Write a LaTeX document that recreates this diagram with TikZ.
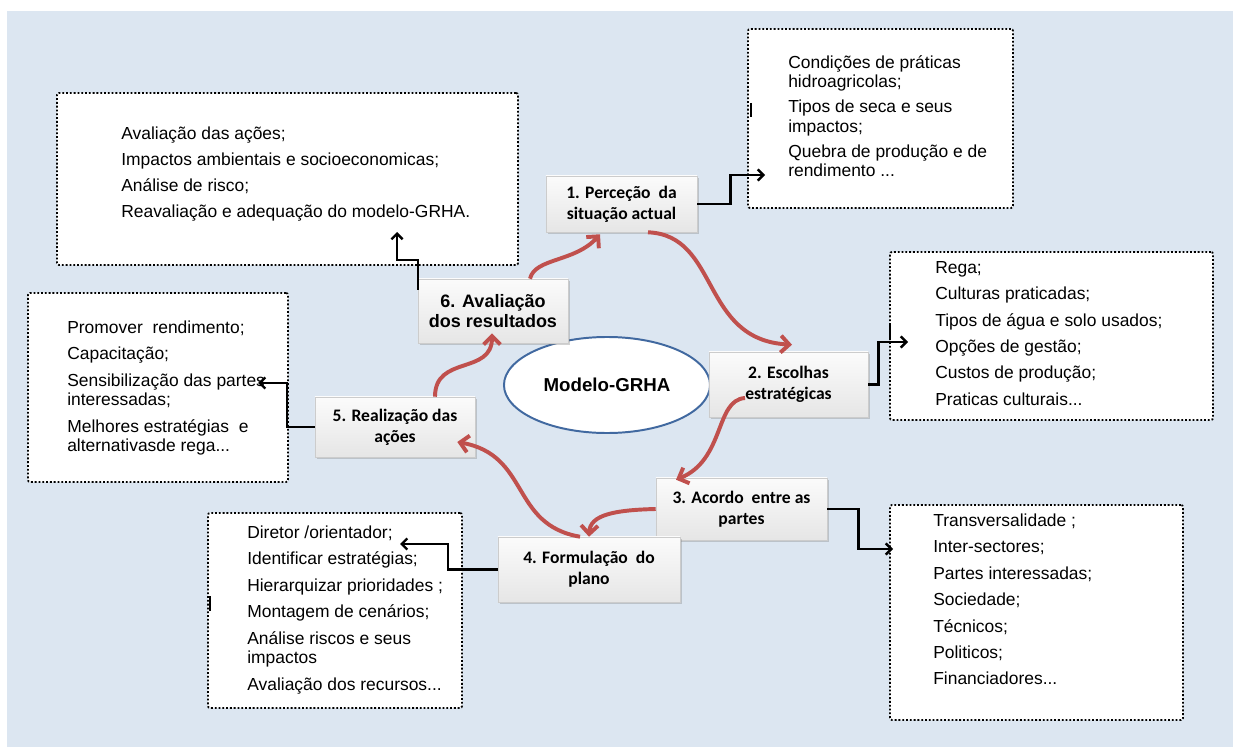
\documentclass[tikz,border=0pt]{standalone}
\usepackage{fontspec}
\setmainfont{Liberation Sans}
\newfontfamily\calibri{Carlito}
\usetikzlibrary{shapes.geometric,shadows,arrows.meta,calc}
\definecolor{fundo}{RGB}{220,230,241}
\definecolor{vermelho}{RGB}{192,80,77}
\definecolor{azul}{RGB}{65,105,160}

\begin{document}
\begin{tikzpicture}[x=0.025cm,y=-0.025cm,
    etapa/.style={rectangle, draw=gray!40, top color=gray!3, bottom color=gray!20,
      drop shadow={shadow xshift=1.3pt,shadow yshift=-1.3pt,opacity=0.35},
      align=center, inner sep=0pt, font=\calibri\bfseries\fontsize{12.5}{14.9}\selectfont},
    caixa/.style={rectangle, draw=black, fill=white, line width=1.3pt,
      dash pattern=on 1.3pt off 1.4pt, rounded corners=1.5pt, inner sep=0pt},
    lista/.style={anchor=north west, align=left, inner sep=0pt, font=\fontsize{12.4}{14}\selectfont},
    seta/.style={vermelho, line width=2.8pt, -{Straight Barb[length=6pt,width=12pt]}},
    ligacao/.style={black, line width=1.7pt, -{Straight Barb[length=4pt,width=8pt]}}]
        \useasboundingbox (0,0) rectangle (1233,747);
        % Fundo
        \fill[white] (0,0) rectangle (1233,747);
        \fill[fundo] (7,11) rectangle (1233,747);
        % Caixas de texto
        \node[caixa, minimum width=6.625cm, minimum height=4.475cm] (b1) at (880.5,118.5) {};
        \node[caixa, minimum width=8.075cm, minimum height=4.2cm] (b2) at (1051.5,336) {};
        \node[caixa, minimum width=7.325cm, minimum height=5.375cm] (b3) at (1036.5,612.5) {};
        \node[caixa, minimum width=6.35cm, minimum height=4.875cm] (b4) at (335,610.5) {};
        \node[caixa, minimum width=6.5cm, minimum height=4.725cm] (b5) at (158,387.5) {};
        \node[caixa, minimum width=11.525cm, minimum height=4.3cm] (b6) at (287.5,179) {};
        \draw[line width=2pt] (751,103) -- (751,117);
        \draw[line width=2pt] (210,596) -- (210,611);
        \draw[line width=1pt] (890,323) -- (890,340);
        % Textos
        \node[lista] (l1) at (788,52.5) {\rule{0pt}{11pt}Condições de práticas\\hidroagricolas;\\[3.6pt]
            Tipos de seca e seus\\impactos;\\[3.6pt] Quebra de produção e de\\rendimento ...};
        \node[lista] (l2) at (935,257.5) {\rule{0pt}{11pt}Rega;\\[4.8pt] Culturas praticadas;\\[4.8pt]
            Tipos de água e solo usados;\\[4.8pt] Opções de gestão;\\[4.8pt]
            Custos de produção;\\[4.8pt] Praticas culturais...};
        \node[lista] (l3) at (933,510.5) {\rule{0pt}{11pt}Transversalidade ;\\[4.8pt] Inter-sectores;\\[4.8pt]
            Partes interessadas;\\[4.8pt] Sociedade;\\[4.8pt] Técnicos;\\[4.8pt]
            Politicos;\\[4.8pt] Financiadores...};
        \node[lista] (l4) at (247,522.5) {\rule{0pt}{11pt}Diretor /orientador;\\[4.8pt] Identificar estratégias;\\[4.8pt]
            Hierarquizar prioridades ;\\[4.8pt] Montagem de cenários;\\[4.8pt]
            Análise riscos e seus\\impactos\\[4.8pt] Avaliação dos recursos...};
        \node[lista] (l5) at (67,317.5) {\rule{0pt}{11pt}Promover\ \ rendimento;\\[4.8pt] Capacitação;\\[4.8pt]
            Sensibilização das partes\\interessadas;\\[4.8pt]
            Melhores estratégias\ \ e\\alternativasde rega...};
        \node[lista] (l6) at (121,123.5) {\rule{0pt}{11pt}Avaliação das ações;\\[4.5pt]
            Impactos ambientais e socioeconomicas;\\[4.5pt] Análise de risco;\\[4.5pt]
            Reavaliação e adequação do modelo-GRHA.};
        % Modelo
        \node[ellipse, draw=azul, line width=1.4pt, fill=white, minimum width=5.15cm, minimum height=2.4cm,
            font=\bfseries\fontsize{13.3}{16}\selectfont] (mdl) at (607,385) {Modelo-GRHA};
        % Etapas
        \node[etapa, minimum width=3.775cm, minimum height=1.4cm] (s1) at (621.5,204) {1. Perceção\ \ da\\situação actual};
        \node[etapa, minimum width=3.975cm, minimum height=1.625cm] (s2) at (788.5,384.5) {2. Escolhas\\estratégicas};
        \node[etapa, minimum width=4.275cm, minimum height=1.55cm] (s3) at (741.5,509) {3. Acordo\ \ entre as\\partes};
        \node[etapa, minimum width=4.55cm, minimum height=1.625cm] (s4) at (589,569.5) {4. Formulação\ \ do\\plano};
        \node[etapa, minimum width=4cm, minimum height=1.5cm] (s5) at (395,427) {5. Realização das\\ações};
        \node[etapa, minimum width=3.75cm, minimum height=1.6cm, font=\bfseries\fontsize{12.8}{14.4}\selectfont]
            (s6) at (493,311) {6. Avaliação\\dos resultados};
        % Ligacoes
        \coordinate (t1) at (765,175);
        \coordinate (t2) at (908,342);
        \coordinate (t3) at (893,549);
        \coordinate (t4) at (400,544);
        \coordinate (t5) at (258,383);
        \coordinate (t6) at (397,232);
        \draw[ligacao] (s1.east) -- ++(33,0) |- (t1);
        \draw[ligacao] (s2.east) -- ++(10,0) |- (t2);
        \draw[ligacao] (s3.east) -- ++(31,0) |- (t3);
        \draw[ligacao] (s4.west) -- ++(-50,0) |- (t4);
        \draw[ligacao] (s5.west) -- ++(-28,0) |- (t5);
        \draw[ligacao] ($(s6.north west)+(0,11)$) -- ++(0,-30) -| (t6);
        % Ciclo
        \draw[seta] ($(s6.north)+(37,0)$) .. controls +(5,-21) and +(-25,28) .. ($(s1.south)+(-21.5,2)$);
        \draw[seta] ($(s1.south)+(26.5,0)$) .. controls +(72,3) and +(-92,-5) .. ($(s2.north)+(3.5,-7)$);
        \draw[seta] ($(s2.center)+(-43.5,13.5)$) .. controls +(-30,2) and +(49,-20) .. ($(s3.north)+(-65.5,2)$);
        \draw[seta] (s3.west) .. controls +(-41,1) and +(1,-22) .. (s4.north);
        \draw[seta] ($(s4.north)+(-9,0)$) .. controls +(-70,-12) and +(73,13) .. ($(s5.east)+(-18,15)$);
        \draw[seta] ($(s5.north)+(40,0)$) .. controls +(0,-42) and +(0,42) .. ($(s6.south)+(-1,-10)$);
    \end{tikzpicture}
\end{document}
